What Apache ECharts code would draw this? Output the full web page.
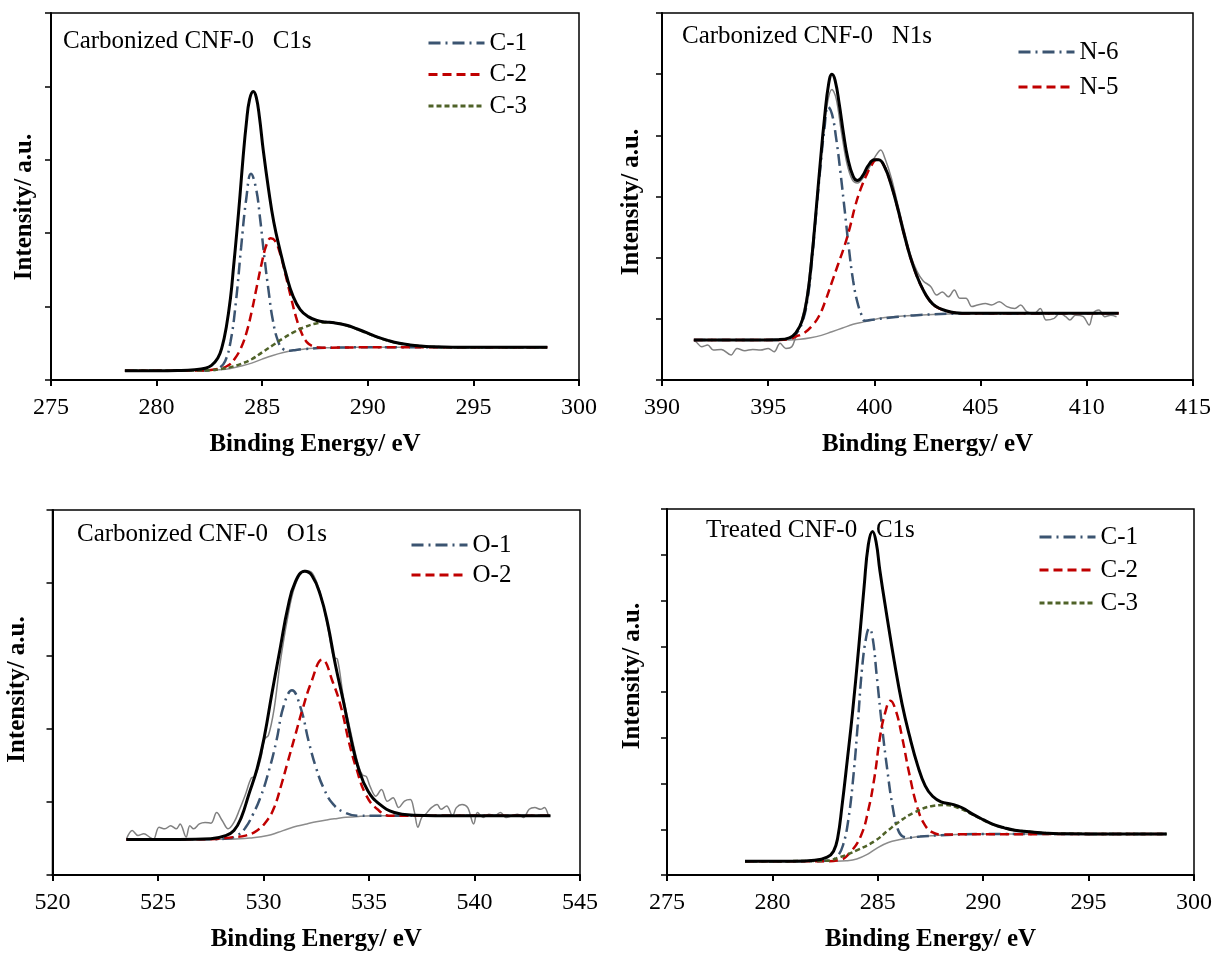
<!DOCTYPE html>
<html>
<head>
<meta charset="utf-8">
<script src="https://cdn.jsdelivr.net/npm/echarts@6/dist/echarts.min.js"></script>
<style>
html,body{margin:0;padding:0;background:#fff;}
#chart{width:1215px;height:953px;}
</style>
</head>
<body>
<div id="chart"></div>
<script>
// ---------- axis ranges / ticks ----------
const xRangeC1s = [275, 300];
const xRangeN1s = [390, 415];
const xRangeO1s = [520, 545];
const xRangeTreated = [275, 300];
const yMaxes = [5, 6, 5, 8];   // number of unlabeled y tick intervals per panel
const xTickStep = 5;

// ---------- panel texts ----------
const panelLabels = ['Carbonized CNF-0   C1s', 'Carbonized CNF-0   N1s', 'Carbonized CNF-0   O1s', 'Treated CNF-0   C1s'];
const legendC = ['C-1', 'C-2', 'C-3'];
const legendN = ['N-6', 'N-5'];
const legendO = ['O-1', 'O-2'];
const xTitle = 'Binding Energy/ eV';
const yTitle = 'Intensity/ a.u.';

// ---------- Panel 1: Carbonized C1s ----------
const c1sEnvelope = [[278.5,0.127],[280,0.127],[281,0.13],[281.8,0.14],[282.3,0.16],[282.6,0.2],[282.9,0.3],[283.1,0.45],[283.3,0.72],[283.5,1.12],[283.65,1.56],[283.8,2.02],[283.95,2.52],[284.1,3.05],[284.25,3.5],[284.4,3.82],[284.58,3.93],[284.72,3.85],[284.87,3.58],[285.05,3.13],[285.3,2.6],[285.55,2.15],[285.85,1.76],[286.15,1.42],[286.45,1.15],[286.8,0.96],[287.2,0.86],[287.6,0.81],[288.0,0.79],[288.4,0.78],[289.0,0.745],[289.5,0.695],[290.0,0.64],[290.5,0.58],[291.0,0.535],[291.5,0.5],[292.0,0.477],[292.5,0.462],[293.0,0.453],[294.0,0.446],[296,0.445],[298.5,0.445]];
const c1sBackground = [[278.5,0.127],[282,0.128],[282.5,0.132],[283,0.14],[283.5,0.158],[284,0.19],[284.5,0.23],[285,0.285],[285.5,0.335],[286,0.375],[286.5,0.405],[287,0.422],[287.5,0.432],[288,0.438],[289,0.443],[290,0.445],[298.5,0.445]];
const c1sC1 = [[278.5,0.127],[282,0.128],[282.7,0.136],[283.0,0.17],[283.25,0.26],[283.5,0.52],[283.75,1.05],[284.0,1.8],[284.25,2.48],[284.47,2.81],[284.7,2.62],[284.9,2.2],[285.1,1.68],[285.3,1.22],[285.5,0.82],[285.75,0.53],[286.0,0.42],[286.3,0.4],[286.6,0.41],[287,0.422],[288,0.438],[290,0.445],[298.5,0.445]];
const c1sC2 = [[278.5,0.127],[282,0.128],[283,0.155],[283.4,0.2],[283.7,0.29],[284.0,0.44],[284.25,0.64],[284.5,0.93],[284.75,1.28],[285.0,1.62],[285.2,1.84],[285.4,1.93],[285.6,1.9],[285.85,1.72],[286.1,1.44],[286.35,1.14],[286.6,0.86],[286.85,0.65],[287.1,0.52],[287.4,0.46],[287.7,0.443],[288,0.44],[290,0.445],[298.5,0.445]];
const c1sC3 = [[278.5,0.127],[282,0.128],[282.5,0.134],[283,0.147],[283.5,0.175],[284,0.22],[284.5,0.283],[285,0.377],[285.5,0.473],[286,0.569],[286.5,0.652],[287,0.72],[287.5,0.767],[288,0.785],[288.5,0.777],[289,0.743],[289.5,0.692],[290,0.634],[290.5,0.578],[291,0.532],[291.5,0.498],[292,0.475],[292.5,0.46],[293,0.452],[294,0.446],[298.5,0.445]];

// ---------- Panel 2: Carbonized N1s ----------
const n1sEnvelope = [[391.5,0.653],[394,0.653],[395.5,0.66],[396.0,0.69],[396.3,0.77],[396.6,0.97],[396.85,1.38],[397.05,1.98],[397.25,2.75],[397.45,3.55],[397.65,4.28],[397.85,4.85],[398.0,5.0],[398.15,4.9],[398.35,4.5],[398.55,4.02],[398.75,3.62],[399.0,3.33],[399.2,3.26],[399.45,3.34],[399.7,3.5],[400.0,3.6],[400.2,3.6],[400.5,3.47],[400.8,3.18],[401.1,2.8],[401.4,2.38],[401.7,2.0],[402.0,1.7],[402.3,1.47],[402.6,1.3],[402.9,1.2],[403.3,1.14],[403.8,1.1],[404.5,1.09],[411.5,1.09]];
const n1sBackground = [[391.5,0.653],[396,0.655],[396.5,0.665],[397,0.69],[397.5,0.73],[398,0.79],[398.5,0.85],[399,0.91],[399.5,0.95],[400,0.99],[400.5,1.02],[401,1.04],[402,1.06],[403,1.075],[404,1.085],[405,1.09],[411.5,1.09]];
const n1sRaw = [[391.5,0.65],[391.6,0.626],[391.87,0.545],[392.15,0.572],[392.42,0.49],[392.79,0.5],[393.25,0.408],[393.53,0.517],[393.9,0.479],[394.27,0.5],[394.64,0.49],[395.0,0.517],[395.28,0.463],[395.56,0.6],[395.83,0.517],[396.11,0.545],[396.3,0.71],[396.55,0.95],[396.8,1.35],[397.05,2.1],[397.3,3.0],[397.55,3.9],[397.8,4.55],[398.0,4.75],[398.2,4.6],[398.45,4.05],[398.7,3.55],[398.95,3.28],[399.2,3.22],[399.5,3.32],[399.8,3.5],[400.05,3.66],[400.3,3.76],[400.5,3.62],[400.8,3.3],[401.1,2.87],[401.4,2.45],[401.7,2.05],[402.0,1.78],[402.3,1.62],[402.65,1.53],[402.93,1.39],[403.2,1.44],[403.48,1.36],[403.76,1.47],[404.03,1.335],[404.31,1.335],[404.59,1.2],[404.86,1.226],[405.23,1.25],[405.51,1.226],[405.88,1.28],[406.24,1.2],[406.61,1.17],[406.89,1.226],[407.17,1.117],[407.53,1.09],[407.81,1.17],[408.09,0.98],[408.46,1.008],[408.73,1.09],[409.01,1.035],[409.2,0.98],[409.47,1.06],[409.84,1.035],[410.11,0.898],[410.3,1.09],[410.57,1.144],[410.85,1.035],[411.13,1.06],[411.4,1.035]];
const n1sN6 = [[391.5,0.653],[395.5,0.655],[396.0,0.68],[396.3,0.75],[396.6,0.94],[396.85,1.32],[397.05,1.93],[397.25,2.7],[397.45,3.45],[397.65,4.12],[397.82,4.47],[398.0,4.35],[398.2,3.95],[398.4,3.4],[398.6,2.78],[398.8,2.15],[399.0,1.62],[399.2,1.27],[399.4,1.06],[399.55,0.97],[400,0.99],[401,1.03],[402,1.06],[404,1.085],[411.5,1.09]];
const n1sN5 = [[391.5,0.653],[395.5,0.655],[396.0,0.67],[396.3,0.71],[396.7,0.77],[397.1,0.9],[397.4,1.05],[397.7,1.3],[398.0,1.6],[398.3,1.9],[398.6,2.2],[398.85,2.5],[399.1,2.85],[399.35,3.12],[399.6,3.33],[399.85,3.5],[400.1,3.6],[400.3,3.58],[400.5,3.47],[400.8,3.18],[401.1,2.8],[401.4,2.38],[401.7,2.0],[402.0,1.7],[402.3,1.47],[402.6,1.3],[402.9,1.2],[403.3,1.14],[403.8,1.1],[404.5,1.09],[411.5,1.09]];

// ---------- Panel 3: Carbonized O1s ----------
const o1sEnvelope = [[523.5,0.488],[526,0.488],[527.5,0.497],[528.2,0.54],[528.6,0.61],[528.95,0.79],[529.3,1.1],[529.7,1.46],[530.05,1.91],[530.4,2.49],[530.8,3.12],[531.15,3.66],[531.5,4.01],[531.95,4.16],[532.3,4.1],[532.7,3.83],[533.05,3.43],[533.4,2.89],[533.8,2.36],[534.15,1.86],[534.5,1.46],[534.95,1.15],[535.5,0.97],[536.2,0.856],[537.1,0.82],[539.3,0.81],[543.6,0.81]];
const o1sBackground = [[523.5,0.488],[528.5,0.49],[529.5,0.51],[530.2,0.54],[530.7,0.585],[531.15,0.63],[531.6,0.67],[532.05,0.7],[532.5,0.73],[533.0,0.755],[533.5,0.775],[533.9,0.79],[534.5,0.803],[535.2,0.81],[543.6,0.81]];
const o1sRaw = [[523.51,0.497],[523.78,0.61],[524.05,0.542],[524.33,0.564],[524.6,0.52],[524.78,0.488],[525.05,0.654],[525.33,0.632],[525.6,0.676],[525.87,0.632],[526.05,0.7],[526.33,0.52],[526.51,0.676],[526.69,0.632],[526.96,0.7],[527.23,0.72],[527.51,0.71],[527.78,0.855],[528.05,0.743],[528.32,0.632],[528.6,0.72],[528.87,0.9],[529.14,1.1],[529.42,1.326],[529.6,1.35],[529.87,1.595],[530.05,1.864],[530.23,1.91],[530.5,2.27],[530.78,2.89],[531.14,3.52],[531.5,3.97],[531.96,4.17],[532.32,4.13],[532.69,3.86],[533.05,3.39],[533.32,2.98],[533.5,2.96],[533.78,2.45],[534.14,1.95],[534.5,1.5],[534.69,1.37],[534.87,1.35],[535.05,1.214],[535.32,1.08],[535.59,1.17],[535.87,1.01],[536.14,1.057],[536.41,0.923],[536.68,1.013],[536.96,1.035],[537.14,0.878],[537.32,0.654],[537.5,0.788],[537.68,0.833],[537.96,0.923],[538.23,0.967],[538.41,0.9],[538.68,0.945],[538.96,0.81],[539.14,0.923],[539.41,0.967],[539.68,0.923],[539.96,0.7],[540.14,0.855],[540.41,0.788],[540.68,0.833],[540.95,0.81],[541.23,0.855],[541.5,0.788],[541.77,0.81],[542.04,0.833],[542.32,0.788],[542.59,0.9],[542.86,0.923],[543.13,0.9],[543.31,0.923],[543.5,0.81]];
const o1sO1 = [[523.5,0.488],[527.5,0.49],[528.3,0.5],[528.8,0.55],[529.15,0.65],[529.5,0.83],[529.85,1.06],[530.2,1.37],[530.6,1.82],[530.95,2.31],[531.35,2.53],[531.75,2.3],[532.15,1.82],[532.5,1.46],[532.85,1.19],[533.3,0.97],[533.85,0.856],[534.5,0.81],[535.5,0.81],[543.6,0.81]];
const o1sO2 = [[523.5,0.488],[527.5,0.49],[528.6,0.52],[529.15,0.54],[529.7,0.61],[530.15,0.74],[530.5,0.92],[530.85,1.24],[531.15,1.55],[531.5,1.91],[531.85,2.27],[532.25,2.63],[532.78,2.95],[533.3,2.63],[533.7,2.27],[534.05,1.82],[534.4,1.46],[534.85,1.1],[535.4,0.9],[536.05,0.81],[543.6,0.81]];

// ---------- Panel 4: Treated C1s ----------
const tc1sEnvelope = [[278.7,0.3],[281,0.3],[282,0.32],[282.6,0.39],[282.9,0.52],[283.1,0.82],[283.3,1.5],[283.55,2.5],[283.8,3.55],[284.1,5.0],[284.35,6.3],[284.55,7.22],[284.75,7.51],[284.92,7.28],[285.1,6.65],[285.4,5.75],[285.78,4.67],[286.15,3.74],[286.5,3.05],[286.9,2.38],[287.25,1.95],[287.6,1.72],[288.0,1.6],[288.5,1.55],[289.0,1.47],[289.5,1.33],[290.0,1.21],[290.5,1.1],[291,1.03],[291.5,0.98],[292.3,0.94],[293,0.915],[294,0.9],[296,0.897],[298.7,0.897]];
const tc1sBackground = [[278.7,0.3],[283,0.3],[283.5,0.31],[284,0.35],[284.5,0.45],[285,0.6],[285.5,0.71],[286,0.77],[286.5,0.81],[287,0.84],[287.6,0.86],[288.5,0.88],[290,0.895],[298.7,0.897]];
const tc1sC1 = [[278.7,0.3],[282,0.3],[282.8,0.33],[283.1,0.42],[283.35,0.65],[283.6,1.2],[283.85,2.2],[284.05,3.3],[284.25,4.5],[284.45,5.2],[284.6,5.39],[284.75,5.2],[284.95,4.35],[285.2,3.25],[285.45,2.3],[285.7,1.5],[285.95,1.0],[286.2,0.84],[286.5,0.82],[287,0.84],[288,0.87],[290,0.897],[298.7,0.897]];
const tc1sC2 = [[278.7,0.3],[282.5,0.3],[283.2,0.33],[283.7,0.5],[284.2,0.86],[284.55,1.42],[284.85,2.16],[285.1,3.0],[285.35,3.55],[285.6,3.81],[285.85,3.6],[286.15,3.02],[286.5,2.2],[286.9,1.44],[287.25,1.08],[287.6,0.93],[288,0.885],[289,0.89],[298.7,0.897]];
const tc1sC3 = [[278.7,0.3],[282.5,0.31],[283.2,0.39],[284,0.54],[284.85,0.74],[285.5,0.98],[286,1.16],[286.7,1.36],[287.6,1.51],[288.2,1.53],[288.8,1.47],[289.5,1.32],[290,1.2],[290.5,1.1],[291,1.03],[291.5,0.98],[292.3,0.94],[293,0.915],[294,0.9],[298.7,0.897]];

// ---------- styling ----------
const FONT = '"Liberation Serif", "Times New Roman", serif';
const COL_C1 = '#3b5471';
const COL_C2 = '#c00000';
const COL_C3 = '#4f6228';
const DASH_DOT = [12, 5, 2, 5];
const DASH_LONG = [9, 5];
const DASH_SHORT = [5, 3];

const grids = [
  {left: 51, top: 13, width: 528, height: 367},
  {left: 662, top: 13, width: 531, height: 367},
  {left: 52.5, top: 510, width: 527.5, height: 372},
  {left: 667, top: 509, width: 528, height: 371}
];
const yNameGaps = [14, 18, 22, 22];
// padding used to nudge the rotated y titles along the axis: [top, right, bottom, left]
const yNamePads = [[0, 21, 0, 0], [0, 11, 0, 0], [0, 0, 0, 6], [0, 0, 0, 32]];
const xRanges = [xRangeC1s, xRangeN1s, xRangeO1s, xRangeTreated];

const option = {
  animation: false,
  backgroundColor: '#fff',
  grid: grids.map(g => Object.assign({show: true, borderColor: '#000', borderWidth: 1.5, backgroundColor: 'transparent'}, g)),
  xAxis: xRanges.map((r, i) => ({
    type: 'value', gridIndex: i, min: r[0], max: r[1], interval: xTickStep,
    name: xTitle, nameLocation: 'middle', nameGap: 52,
    nameTextStyle: {fontFamily: FONT, fontWeight: 'bold', fontSize: 25, color: '#000'},
    axisLine: {show: true, onZero: false, lineStyle: {color: '#000', width: 2}},
    axisTick: {show: true, inside: false, length: 6, lineStyle: {color: '#000', width: 2}},
    axisLabel: {fontFamily: FONT, fontSize: 24, color: '#000', margin: 16},
    splitLine: {show: false}
  })),
  yAxis: yMaxes.map((m, i) => ({
    type: 'value', gridIndex: i, min: 0, max: m, interval: 1,
    name: yTitle, nameLocation: 'middle', nameGap: yNameGaps[i], nameRotate: 90,
    nameTextStyle: {fontFamily: FONT, fontWeight: 'bold', fontSize: 25, color: '#000', padding: yNamePads[i]},
    axisLine: {show: true, onZero: false, lineStyle: {color: '#000', width: 2}},
    axisTick: {show: true, inside: false, length: 6, lineStyle: {color: '#000', width: 1.5}},
    axisLabel: {show: false},
    splitLine: {show: false}
  })),
  title: [
    {text: panelLabels[0], left: 63, top: 29},
    {text: panelLabels[1], left: 682, top: 24},
    {text: panelLabels[2], left: 77, top: 522},
    {text: panelLabels[3], left: 706, top: 518}
  ].map(t => Object.assign({padding: 0, textStyle: {fontFamily: FONT, fontSize: 25, fontWeight: 'normal', color: '#000'}}, t)),
  legend: [
    {data: legendC, left: 427, top: 30.5, itemGap: 6.5},
    {data: legendN, left: 1017, top: 39.5, itemGap: 10},
    {data: legendO, left: 410, top: 532.5, itemGap: 5},
    {data: legendC, left: 1038, top: 524.5, itemGap: 8}
  ].map(l => Object.assign({
    orient: 'vertical', padding: 0, itemWidth: 56, itemHeight: 12, selectedMode: false,
    textStyle: {fontFamily: FONT, fontSize: 25, color: '#000', lineHeight: 25},
    itemStyle: {color: 'rgba(0,0,0,0)', borderWidth: 0, borderColor: 'rgba(0,0,0,0)', opacity: 0},
    lineStyle: {width: 3}
  }, l)),
  series: []
};

function addLine(panel, name, data, color, width, dash, z, smooth) {
  option.series.push({
    type: 'line', name: name, xAxisIndex: panel, yAxisIndex: panel, data: data,
    symbol: 'none', showSymbol: false, silent: true, z: z,
    smooth: smooth,
    lineStyle: {color: color, width: width, type: dash},
    itemStyle: {color: color}
  });
}

// Panel 1
addLine(0, 'bg1', c1sBackground, '#8c8c8c', 1.5, 'solid', 2, 0.4);
addLine(0, 'C-1', c1sC1, COL_C1, 2.5, DASH_DOT, 3, 0.45);
addLine(0, 'C-2', c1sC2, COL_C2, 2.5, DASH_LONG, 3, 0.45);
addLine(0, 'C-3', c1sC3, COL_C3, 2.5, DASH_SHORT, 3, 0.45);
addLine(0, 'env1', c1sEnvelope, '#000', 3, 'solid', 5, 0.45);
// Panel 2
addLine(1, 'bg2', n1sBackground, '#8c8c8c', 1.5, 'solid', 2, 0.4);
addLine(1, 'raw2', n1sRaw, '#808080', 1.5, 'solid', 2, 0.35);
addLine(1, 'N-6', n1sN6, COL_C1, 2.5, DASH_DOT, 3, 0.45);
addLine(1, 'N-5', n1sN5, COL_C2, 2.5, DASH_LONG, 3, 0.45);
addLine(1, 'env2', n1sEnvelope, '#000', 3, 'solid', 5, 0.45);
// Panel 3
addLine(2, 'bg3', o1sBackground, '#8c8c8c', 1.5, 'solid', 2, 0.4);
addLine(2, 'raw3', o1sRaw, '#808080', 1.5, 'solid', 2, 0.35);
addLine(2, 'O-1', o1sO1, COL_C1, 2.5, DASH_DOT, 3, 0.45);
addLine(2, 'O-2', o1sO2, COL_C2, 2.5, DASH_LONG, 3, 0.45);
addLine(2, 'env3', o1sEnvelope, '#000', 3, 'solid', 5, 0.45);
// Panel 4
addLine(3, 'bg4', tc1sBackground, '#8c8c8c', 1.5, 'solid', 2, 0.4);
addLine(3, 'C-1', tc1sC1, COL_C1, 2.5, DASH_DOT, 3, 0.45);
addLine(3, 'C-2', tc1sC2, COL_C2, 2.5, DASH_LONG, 3, 0.45);
addLine(3, 'C-3', tc1sC3, COL_C3, 2.5, DASH_SHORT, 3, 0.45);
addLine(3, 'env4', tc1sEnvelope, '#000', 3, 'solid', 5, 0.45);

const chart = echarts.init(document.getElementById('chart'), null, {renderer: 'canvas'});
chart.setOption(option);
</script>
</body>
</html>
